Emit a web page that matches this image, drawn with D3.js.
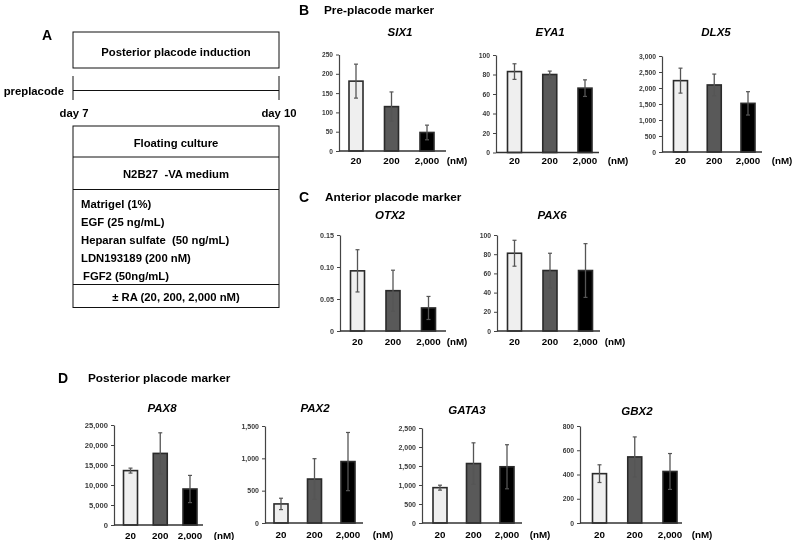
<!DOCTYPE html>
<html>
<head>
<meta charset="utf-8">
<script src="https://cdn.jsdelivr.net/npm/d3@7"></script>
<style>
  html, body { margin: 0; padding: 0; background: #fff; }
  svg { display: block; font-family: "Liberation Sans", Arial, sans-serif; will-change: transform; }
</style>
</head>
<body>
<svg id="fig" width="793" height="540"></svg>
<script>
// ---------------- DATA ----------------
const concentrations = ["20", "200", "2,000"];
const barColors = ["#efefef", "#595959", "#000000"];

const six1Mean = [181, 115, 48];
const six1Sd = [44, 38, 19];
const six1Ticks = [0, 50, 100, 150, 200, 250];

const eya1Mean = [83, 80, 66];
const eya1Sd = [8, 3.5, 8.5];
const eya1Ticks = [0, 20, 40, 60, 80, 100];

const dlx5Mean = [2230, 2095, 1520];
const dlx5Sd = [390, 340, 365];
const dlx5Ticks = [0, 500, 1000, 1500, 2000, 2500, 3000];

const otx2Mean = [0.094, 0.063, 0.036];
const otx2Sd = [0.033, 0.032, 0.018];
const otx2Ticks = [0, 0.05, 0.10, 0.15];

const pax6Mean = [81, 63, 63];
const pax6Sd = [13.5, 18, 28];
const pax6Ticks = [0, 20, 40, 60, 80, 100];

const pax8Mean = [13600, 17900, 9000];
const pax8Sd = [620, 5150, 3400];
const pax8Ticks = [0, 5000, 10000, 15000, 20000, 25000];

const pax2Mean = [295, 680, 950];
const pax2Sd = [88, 315, 450];
const pax2Ticks = [0, 500, 1000, 1500];

const gata3Mean = [930, 1565, 1480];
const gata3Sd = [65, 545, 580];
const gata3Ticks = [0, 500, 1000, 1500, 2000, 2500];

const gbx2Mean = [407, 545, 425];
const gbx2Sd = [73, 165, 148];
const gbx2Ticks = [0, 200, 400, 600, 800];

const protocolItems = ["Matrigel (1%)", "EGF (25 ng/mL)", "Heparan sulfate  (50 ng/mL)", "LDN193189 (200 nM)", "FGF2 (50ng/mL)"];

// ---------------- DRAW ----------------
const svg = d3.select("#fig");
const FONT = "'Liberation Sans', Arial, sans-serif";

function txt(x, y, s, opts = {}) {
  return svg.append("text")
    .attr("x", x).attr("y", y)
    .attr("text-anchor", opts.anchor || "start")
    .attr("dominant-baseline", "central")
    .attr("font-size", opts.size || 11.3)
    .attr("font-weight", opts.weight || "bold")
    .attr("font-style", opts.style || "normal")
    .attr("fill", opts.fill || "#000")
    .text(s);
}

// ----- Panel A -----
txt(47, 35, "A", {anchor: "middle", size: 14});
const boxL = 73, boxR = 279, boxC = (boxL + boxR) / 2;
svg.append("rect").attr("x", boxL).attr("y", 32).attr("width", boxR - boxL).attr("height", 36)
  .attr("fill", "none").attr("stroke", "#111").attr("stroke-width", 1);
txt(boxC, 52, "Posterior placode induction", {anchor: "middle"});

// timeline
svg.append("line").attr("x1", boxL).attr("x2", boxR).attr("y1", 90.5).attr("y2", 90.5).attr("stroke", "#111");
[boxL, boxR].forEach(x => svg.append("line").attr("x1", x).attr("x2", x).attr("y1", 76).attr("y2", 100).attr("stroke", "#111"));
txt(64, 90.5, "preplacode", {anchor: "end"});
txt(74, 113, "day 7", {anchor: "middle"});
txt(279, 113, "day 10", {anchor: "middle"});

// protocol box
svg.append("rect").attr("x", boxL).attr("y", 126).attr("width", boxR - boxL).attr("height", 181.5)
  .attr("fill", "none").attr("stroke", "#111").attr("stroke-width", 1);
[157, 189.5, 284.5].forEach(y => svg.append("line").attr("x1", boxL).attr("x2", boxR).attr("y1", y).attr("y2", y).attr("stroke", "#111"));
txt(boxC, 142.5, "Floating culture", {anchor: "middle"});
txt(boxC, 174, "N2B27  -VA medium", {anchor: "middle"}).style("white-space", "pre");
const itemYs = [203.5, 221.7, 240, 258, 276];
protocolItems.forEach((s, i) => txt(i === 4 ? 83 : 81, itemYs[i], s).style("white-space", "pre"));
txt(boxC, 297, "\u00B1 RA (20, 200, 2,000 nM)", {anchor: "middle"});

// ----- Section headers -----
txt(299, 9.5, "B", {size: 14});
txt(324, 9.5, "Pre-placode marker", {size: 11.8});
txt(299, 197, "C", {size: 14});
txt(325, 197, "Anterior placode marker", {size: 11.8});
txt(58, 378, "D", {size: 14});
txt(88, 378, "Posterior placode marker", {size: 11.8});

// ----- Bar chart helper -----
function barChart(cfg) {
  const g = svg.append("g");
  const x = d3.scalePoint().domain(concentrations).range([cfg.axisX + cfg.c1, cfg.axisX + cfg.c3]);
  const y = d3.scaleLinear().domain([0, cfg.ticks[cfg.ticks.length - 1]]).range([cfg.bottom, cfg.top]);
  const bw = 14;

  // title
  g.append("text").attr("x", cfg.titleX).attr("y", cfg.titleY)
    .attr("text-anchor", "middle").attr("dominant-baseline", "central")
    .attr("font-size", 11.5).attr("font-weight", "bold").attr("font-style", "italic")
    .text(cfg.title);

  // y axis
  const ax = g.append("g").attr("transform", `translate(${cfg.axisX},0)`)
    .call(d3.axisLeft(y).tickValues(cfg.ticks).tickSize(3).tickSizeOuter(0).tickPadding(3)
      .tickFormat(cfg.fmt || d3.format(",")));
  ax.select(".domain").attr("stroke", "#444").attr("stroke-width", 1.2);
  ax.selectAll(".tick line").attr("stroke", "#444").attr("stroke-width", 1);
  ax.selectAll(".tick text").attr("font-size", cfg.tickSize || 7).attr("font-weight", "bold")
    .attr("fill", "#3a3a3a").attr("font-family", FONT);

  // bars
  g.selectAll("rect.bar").data(cfg.mean).join("rect").attr("class", "bar")
    .attr("x", (d, i) => x(concentrations[i]) - bw / 2)
    .attr("width", bw)
    .attr("y", d => y(d))
    .attr("height", d => y(0) - y(d))
    .attr("fill", (d, i) => barColors[i])
    .attr("stroke", "#2a2a2a").attr("stroke-width", 1.6);

  // error bars
  const eb = g.selectAll("g.eb").data(cfg.mean).join("g").attr("class", "eb");
  eb.append("line")
    .attr("x1", (d, i) => x(concentrations[i])).attr("x2", (d, i) => x(concentrations[i]))
    .attr("y1", (d, i) => y(d + cfg.sd[i])).attr("y2", (d, i) => y(Math.max(0, d - cfg.sd[i])))
    .attr("stroke", "#555").attr("stroke-width", 1.3);
  [1, -1].forEach(sgn => {
    eb.append("line")
      .attr("x1", (d, i) => x(concentrations[i]) - 2).attr("x2", (d, i) => x(concentrations[i]) + 2)
      .attr("y1", (d, i) => y(Math.max(0, d + sgn * cfg.sd[i])))
      .attr("y2", (d, i) => y(Math.max(0, d + sgn * cfg.sd[i])))
      .attr("stroke", "#555").attr("stroke-width", 1.2);
  });

  // baseline
  g.append("line").attr("x1", cfg.axisX).attr("x2", cfg.axisX + cfg.len)
    .attr("y1", y(0)).attr("y2", y(0)).attr("stroke", "#333").attr("stroke-width", 1.6);

  // x labels
  g.selectAll("text.xl").data(concentrations).join("text").attr("class", "xl")
    .attr("x", d => x(d)).attr("y", cfg.labelY)
    .attr("text-anchor", "middle").attr("dominant-baseline", "central")
    .attr("font-size", 9.8).attr("font-weight", "bold").text(d => d);
  g.append("text").attr("x", cfg.nmX).attr("y", cfg.labelY)
    .attr("text-anchor", "middle").attr("dominant-baseline", "central")
    .attr("font-size", 9.8).attr("font-weight", "bold").text("(nM)");
}

// Row B
barChart({title: "SIX1", mean: six1Mean, sd: six1Sd, ticks: six1Ticks, axisX: 339, top: 54.5, bottom: 151,
  c1: 17, c3: 88, len: 107, titleX: 400, titleY: 32, labelY: 160, nmX: 457, tickSize: 6.6});
barChart({title: "EYA1", mean: eya1Mean, sd: eya1Sd, ticks: eya1Ticks, axisX: 496, top: 55, bottom: 152.5,
  c1: 18.5, c3: 89, len: 103, titleX: 550, titleY: 32, labelY: 160, nmX: 618, tickSize: 6.8});
barChart({title: "DLX5", mean: dlx5Mean, sd: dlx5Sd, ticks: dlx5Ticks, axisX: 662, top: 56, bottom: 152,
  c1: 18.5, c3: 86, len: 100, titleX: 716, titleY: 32, labelY: 160, nmX: 782, tickSize: 6.8});

// Row C
barChart({title: "OTX2", mean: otx2Mean, sd: otx2Sd, ticks: otx2Ticks, axisX: 340, top: 235, bottom: 331,
  c1: 17.5, c3: 88.5, len: 106, titleX: 390, titleY: 215, labelY: 341, nmX: 457, tickSize: 7.2,
  fmt: d => d === 0 ? "0" : d3.format(".2f")(d)});
barChart({title: "PAX6", mean: pax6Mean, sd: pax6Sd, ticks: pax6Ticks, axisX: 497, top: 235, bottom: 331,
  c1: 17.5, c3: 88.5, len: 103, titleX: 552, titleY: 215, labelY: 341, nmX: 615, tickSize: 6.8});

// Row D
barChart({title: "PAX8", mean: pax8Mean, sd: pax8Sd, ticks: pax8Ticks, axisX: 114, top: 425, bottom: 525,
  c1: 16.5, c3: 76, len: 89, titleX: 162, titleY: 408, labelY: 535, nmX: 224, tickSize: 7.6});
barChart({title: "PAX2", mean: pax2Mean, sd: pax2Sd, ticks: pax2Ticks, axisX: 265, top: 426, bottom: 523,
  c1: 16, c3: 83, len: 98, titleX: 315, titleY: 408, labelY: 534, nmX: 383, tickSize: 7});
barChart({title: "GATA3", mean: gata3Mean, sd: gata3Sd, ticks: gata3Ticks, axisX: 422, top: 428, bottom: 523,
  c1: 18, c3: 85, len: 100, titleX: 467, titleY: 410, labelY: 534, nmX: 540, tickSize: 7});
barChart({title: "GBX2", mean: gbx2Mean, sd: gbx2Sd, ticks: gbx2Ticks, axisX: 580, top: 426, bottom: 523,
  c1: 19.5, c3: 90, len: 102, titleX: 637, titleY: 411, labelY: 534, nmX: 702, tickSize: 6.8});
</script>
</body>
</html>
